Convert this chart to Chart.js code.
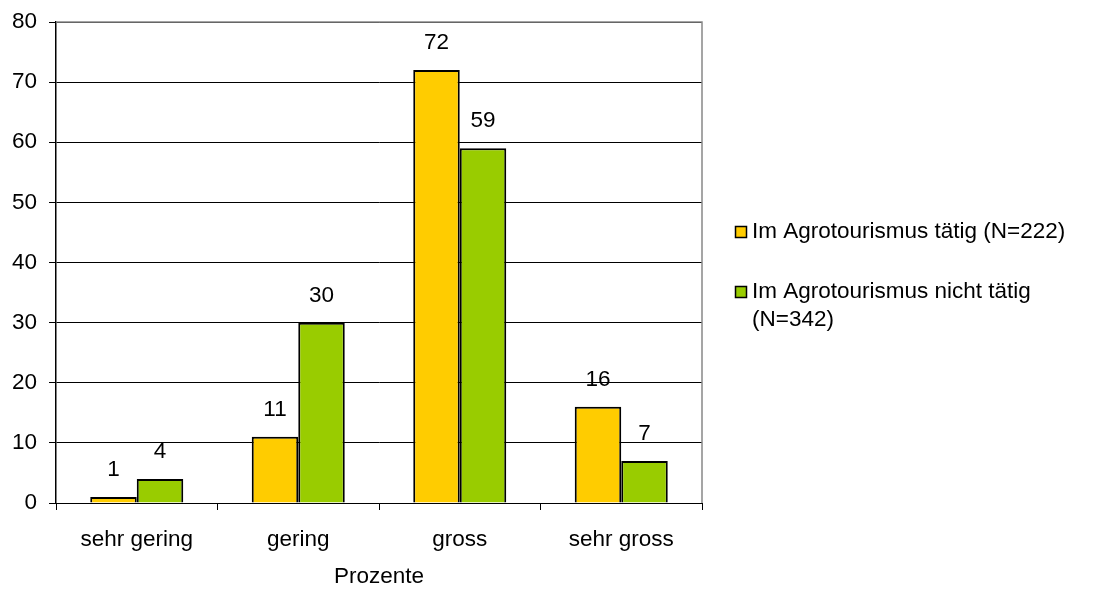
<!DOCTYPE html>
<html>
<head>
<meta charset="utf-8">
<script src="https://cdn.jsdelivr.net/npm/chart.js@4"></script>
<style>
html,body{margin:0;padding:0;background:#fff;}
#wrap{width:1093px;height:590px;position:relative;}
</style>
</head>
<body>
<div id="wrap"><canvas id="c" width="1093" height="590"></canvas></div>
<script>
const categories = ["sehr gering", "gering", "gross", "sehr gross"];
const seriesNames = ["Im Agrotourismus tätig (N=222)", "Im Agrotourismus nicht tätig (N=342)"];
const seriesTaetig = [1, 11, 72, 16];
const seriesNichtTaetig = [4, 30, 59, 7];
const seriesColors = ["#FFCC00", "#99CC00"];
const axisTitle = "Prozente";
const yMin = 0, yMax = 80, yStep = 10;

const FONT = "Liberation Sans, Arial, sans-serif";
const FS = 22.5;

const barLabels = {
  id: 'barLabels',
  afterDatasetsDraw(chart) {
    const ctx = chart.ctx;
    ctx.save();
    ctx.font = FS + "px " + FONT;
    ctx.fillStyle = "#000";
    ctx.textAlign = "center";
    ctx.textBaseline = "middle";
    chart.data.datasets.forEach((ds, i) => {
      chart.getDatasetMeta(i).data.forEach((bar, j) => {
        ctx.fillText(String(ds.data[j]), bar.x, bar.y - 27);
      });
    });
    ctx.restore();
  }
};

const frame = {
  id: 'frame',
  beforeDatasetsDraw(chart) {
    const a = chart.chartArea, ctx = chart.ctx;
    ctx.save();
    ctx.strokeStyle = "#888";
    ctx.lineWidth = 1.5;
    ctx.beginPath();
    ctx.moveTo(a.left, a.top);
    ctx.lineTo(a.right, a.top);
    ctx.lineTo(a.right, a.bottom);
    ctx.stroke();
    ctx.restore();
  }
};

const sideLegend = {
  id: 'sideLegend',
  afterDraw(chart) {
    const ctx = chart.ctx;
    ctx.save();
    ctx.font = FS + "px " + FONT;
    ctx.textBaseline = "middle";
    ctx.textAlign = "left";
    const boxX = 735, textX = 752, maxW = 330, lh = 28;
    const starts = [232, 292];
    chart.data.datasets.forEach((ds, i) => {
      const y0 = starts[i];
      ctx.fillStyle = ds.backgroundColor;
      ctx.fillRect(boxX, y0 - 6, 12, 12);
      ctx.strokeStyle = "#000";
      ctx.lineWidth = 1.5;
      ctx.strokeRect(boxX + 0.5, y0 - 5.5, 11, 11);
      const words = ds.label.split(" ");
      const lines = [];
      let cur = "";
      words.forEach(w => {
        const t = cur ? cur + " " + w : w;
        if (ctx.measureText(t).width > maxW && cur) { lines.push(cur); cur = w; }
        else cur = t;
      });
      if (cur) lines.push(cur);
      ctx.fillStyle = "#000";
      lines.forEach((l, k) => ctx.fillText(l, textX, y0 + k * lh));
    });
    ctx.restore();
  }
};

new Chart(document.getElementById('c'), {
  type: 'bar',
  data: {
    labels: categories,
    datasets: [
      { label: seriesNames[0], data: seriesTaetig, backgroundColor: seriesColors[0], borderColor: "#000", borderWidth: 2, borderSkipped: 'bottom' },
      { label: seriesNames[1], data: seriesNichtTaetig, backgroundColor: seriesColors[1], borderColor: "#000", borderWidth: 2, borderSkipped: 'bottom' }
    ]
  },
  options: {
    responsive: false,
    animation: false,
    devicePixelRatio: 1,
    layout: { padding: { top: 22, right: 391, left: 0, bottom: 0 } },
    datasets: { bar: { categoryPercentage: 0.576, barPercentage: 1.0 } },
    plugins: { legend: { display: false }, tooltip: { enabled: false } },
    scales: {
      x: {
        afterFit(s) { s.height = 87; },
        grid: { display: true, drawOnChartArea: false, drawTicks: true, tickLength: 7, color: "#000", offset: true },
        border: { display: true, color: "#000", width: 1 },
        ticks: { color: "#000", font: { family: FONT, size: FS }, padding: 16 },
        title: { display: true, text: axisTitle, color: "#000", font: { family: FONT, size: FS }, padding: { top: 4, bottom: 0 } }
      },
      y: {
        min: yMin, max: yMax,
        afterFit(s) { s.width = 56; s.paddingTop = 0; },
        grid: { color: "#000", lineWidth: 1, tickLength: 7, drawTicks: true },
        border: { display: true, color: "#000", width: 1.5 },
        ticks: { stepSize: yStep, color: "#000", font: { family: FONT, size: FS }, padding: 12 }
      }
    }
  },
  plugins: [frame, barLabels, sideLegend]
});
</script>
</body>
</html>
